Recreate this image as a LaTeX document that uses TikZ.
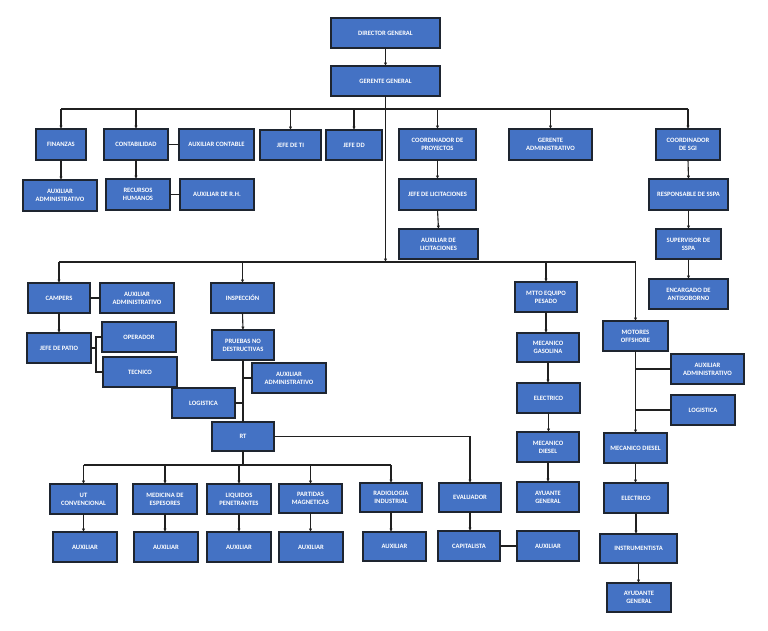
\documentclass[tikz,border=0pt]{standalone}
\usepackage{fontspec}
\setmainfont{Carlito}
\usetikzlibrary{arrows.meta}
\definecolor{boxfill}{HTML}{4472C4}
\definecolor{boxline}{HTML}{1E2530}
\definecolor{conn}{HTML}{202020}
\tikzset{
  box/.style={draw=boxline,fill=boxfill,line width=1.1pt,text=white,font=\fontsize{6.6}{8}\selectfont\bfseries,align=center,inner sep=1pt,outer sep=0pt},
  link/.style={draw=conn,line width=1.1pt},
  arr/.style={link,-{Latex[length=3.4pt,width=3.4pt]}},
  mainbus/.style={draw=conn,line width=1.7pt}
}
\newcommand\bx[6]{\node[box,minimum width={(#4)-(#2)},minimum height={(#5)-(#3)}] (#1) at ({((#2)+(#4))/2},{-((#3)+(#5))/2}) {#6};}
\begin{document}
\begin{tikzpicture}[x=1pt,y=1pt]
\useasboundingbox (0,0) rectangle (768,-631);
% top
\bx{dg}{331}{18}{440}{48}{DIRECTOR GENERAL}
\bx{gg}{331}{66}{440}{96}{GERENTE GENERAL}
% row 1
\bx{fin}{36}{129}{86}{160}{FINANZAS}
\bx{cont}{104}{129}{168}{160}{CONTABILIDAD}
\bx{auxc}{179}{129}{254}{160}{AUXILIAR CONTABLE}
\bx{jti}{260}{130}{321}{160}{JEFE DE TI}
\bx{jdd}{326}{130}{382}{160}{JEFE DD}
\bx{cproy}{399}{129}{476}{160}{COORDINADOR DE\\PROYECTOS}
\bx{gadm}{509}{129}{592}{160}{GERENTE\\ADMINISTRATIVO}
\bx{sgi}{656}{129}{720}{160}{COORDINADOR\\DE SGI}
% row 2
\bx{auxfin}{23}{180}{97}{211}{AUXILIAR\\ADMINISTRATIVO}
\bx{rh}{106}{179}{170}{210}{RECURSOS\\HUMANOS}
\bx{auxrh}{180}{179}{254}{210}{AUXILIAR DE R.H.}
\bx{jlic}{399}{179}{476}{210}{JEFE DE LICITACIONES}
\bx{resp}{649}{179}{728}{210}{RESPONSABLE DE SSPA}
\bx{auxlic}{399}{229}{478}{259}{AUXILIAR DE\\LICITACIONES}
\bx{sup}{656}{229}{721}{259}{SUPERVISOR DE\\SSPA}
\bx{enc}{649}{279}{728}{309}{ENCARGADO DE\\ANTISOBORNO}
% second level
\bx{camp}{28}{283}{90}{313}{CAMPERS}
\bx{auxcamp}{100}{283}{174}{313}{AUXILIAR\\ADMINISTRATIVO}
\bx{patio}{27}{333}{91}{363}{JEFE DE PATIO}
\bx{oper}{102}{322}{176}{352}{OPERADOR}
\bx{tec}{103}{357}{177}{387}{TECNICO}
\bx{insp}{211}{283}{274}{313}{INSPECCIÓN}
\bx{pnd}{212}{330}{274}{360}{PRUEBAS NO\\DESTRUCTIVAS}
\bx{auxpnd}{252}{363}{326}{393}{AUXILIAR\\ADMINISTRATIVO}
\bx{logi}{172}{388}{235}{418}{LOGISTICA}
\bx{rt}{212}{422}{274}{451}{RT}
\bx{ut}{50}{484}{117}{514}{UT\\CONVENCIONAL}
\bx{med}{133}{484}{197}{514}{MEDICINA DE\\ESPESORES}
\bx{liq}{207}{484}{271}{514}{LIQUIDOS\\PENETRANTES}
\bx{part}{279}{484}{342}{513}{PARTIDAS\\MAGNETICAS}
\bx{rad}{360}{483}{422}{512}{RADIOLOGIA\\INDUSTRIAL}
\bx{eval}{439}{483}{501}{512}{EVALUADOR}
\bx{auxut}{53}{532}{117}{562}{AUXILIAR}
\bx{auxmed}{134}{532}{198}{562}{AUXILIAR}
\bx{auxliq}{207}{532}{271}{562}{AUXILIAR}
\bx{auxpart}{279}{532}{343}{562}{AUXILIAR}
\bx{auxrad}{363}{532}{426}{561}{AUXILIAR}
\bx{cap}{438}{531}{500}{561}{CAPITALISTA}
\bx{auxcap}{517}{531}{579}{561}{AUXILIAR}
\bx{mtto}{515}{282}{577}{312}{MTTO EQUIPO\\PESADO}
\bx{mgas}{517}{333}{579}{362}{MECANICO\\GASOLINA}
\bx{elec}{517}{383}{580}{413}{ELECTRICO}
\bx{mdie}{517}{432}{579}{462}{MECANICO\\DIESEL}
\bx{ayu}{517}{482}{579}{512}{AYUANTE\\GENERAL}
\bx{mot}{603}{321}{668}{351}{MOTORES\\OFFSHORE}
\bx{auxmot}{671}{354}{744}{384}{AUXILIAR\\ADMINISTRATIVO}
\bx{logmot}{671}{395}{735}{425}{LOGISTICA}
\bx{mdie2}{604}{433}{667}{463}{MECANICO DIESEL}
\bx{elec2}{604}{483}{668}{513}{ELECTRICO}
\bx{instr}{600}{534}{677}{563}{INSTRUMENTISTA}
\bx{ayu2}{607}{583}{671}{612}{AYUDANTE\\GENERAL}
% buses
\coordinate (busA) at (0,-109);
\coordinate (busB) at (0,-262);
\coordinate (busC) at (0,-465);
\draw[arr] (dg.south) -- (gg.south |- dg.south) -- (gg.north);
\draw[mainbus] (busA -| fin.north) -- (busA -| sgi.north);
\draw[arr] (gg.south) -- (gg.south |- busB);
\foreach \n in {fin,cont,jti,jdd,cproy,gadm,sgi}
  \draw[arr] (busA -| \n.north) -- (\n.north);
\draw[link] (busB -| camp.north) -- (busB -| mot.north);
\foreach \n in {camp,insp,mtto,mot}
  \draw[arr] (busB -| \n.north) -- (\n.north);
% row 1 links
\draw[arr] (fin.south) -- (auxfin.north -| fin.south);
\draw[arr] (cont.south) -- (rh.north -| cont.south);
\draw[link] (cont.east) -- (auxc.west);
\draw[link] (rh.east) -- (auxrh.west);
\draw[arr] (cproy.south) -- (jlic.north -| cproy.south);
\draw[arr] (jlic.south) -- (auxlic.north);
\draw[arr] (sgi.south) -- (resp.north);
\draw[arr] (resp.south) -- (sup.north);
\draw[arr] (sup.south) -- (enc.north);
% campers
\draw[link] (camp.east) -- (auxcamp.west);
\draw[arr] (camp.south) -- (patio.north);
\coordinate (pb) at ([xshift=-6pt]oper.west);
\draw[link] (oper.west) -- (pb) |- (tec.west);
\draw[link] (patio.east) -- (patio.east -| pb);
% inspeccion
\draw[arr] (insp.south) -- (pnd.north);
\draw[link] (pnd.south) -- (rt.north);
\draw[link] (auxpnd.west) -- (auxpnd.west -| pnd.south);
\draw[link] (logi.east) -- (logi.east -| pnd.south);
\draw[link] (rt.south) -- (rt.south |- busC);
\draw[link] (busC -| ut.north) -- (busC -| rad.north);
\foreach \n in {ut,med,liq,part,rad}
  \draw[arr] (busC -| \n.north) -- (\n.north);
\draw[arr] (rt.east) -| (eval.north);
\draw[arr] (ut.south) -- (auxut.north -| ut.south);
\draw[arr] (med.south) -- (auxmed.north -| med.south);
\draw[arr] (liq.south) -- (auxliq.north -| liq.south);
\draw[arr] (part.south) -- (auxpart.north -| part.south);
\draw[arr] (rad.south) -- (auxrad.north -| rad.south);
\draw[arr] (eval.south) -- (cap.north -| eval.south);
\draw[link] (cap.east) -- (auxcap.west);
% mtto
\draw[arr] (mtto.south) -- (mgas.north -| mtto.south);
\draw[arr] (mgas.south) -- (elec.north -| mgas.south);
\draw[arr] (elec.south) -- (mdie.north -| elec.south);
\draw[arr] (mdie.south) -- (ayu.north -| mdie.south);
% motores
\draw[arr] (mot.south) -- (mdie2.north -| mot.south);
\draw[link] (auxmot.west) -- (auxmot.west -| mot.south);
\draw[link] (logmot.west) -- (logmot.west -| mot.south);
\draw[arr] (mdie2.south) -- (elec2.north -| mdie2.south);
\draw[arr] (elec2.south) -- (instr.north -| elec2.south);
\draw[arr] (instr.south) -- (ayu2.north -| instr.south);
\end{tikzpicture}
\end{document}
